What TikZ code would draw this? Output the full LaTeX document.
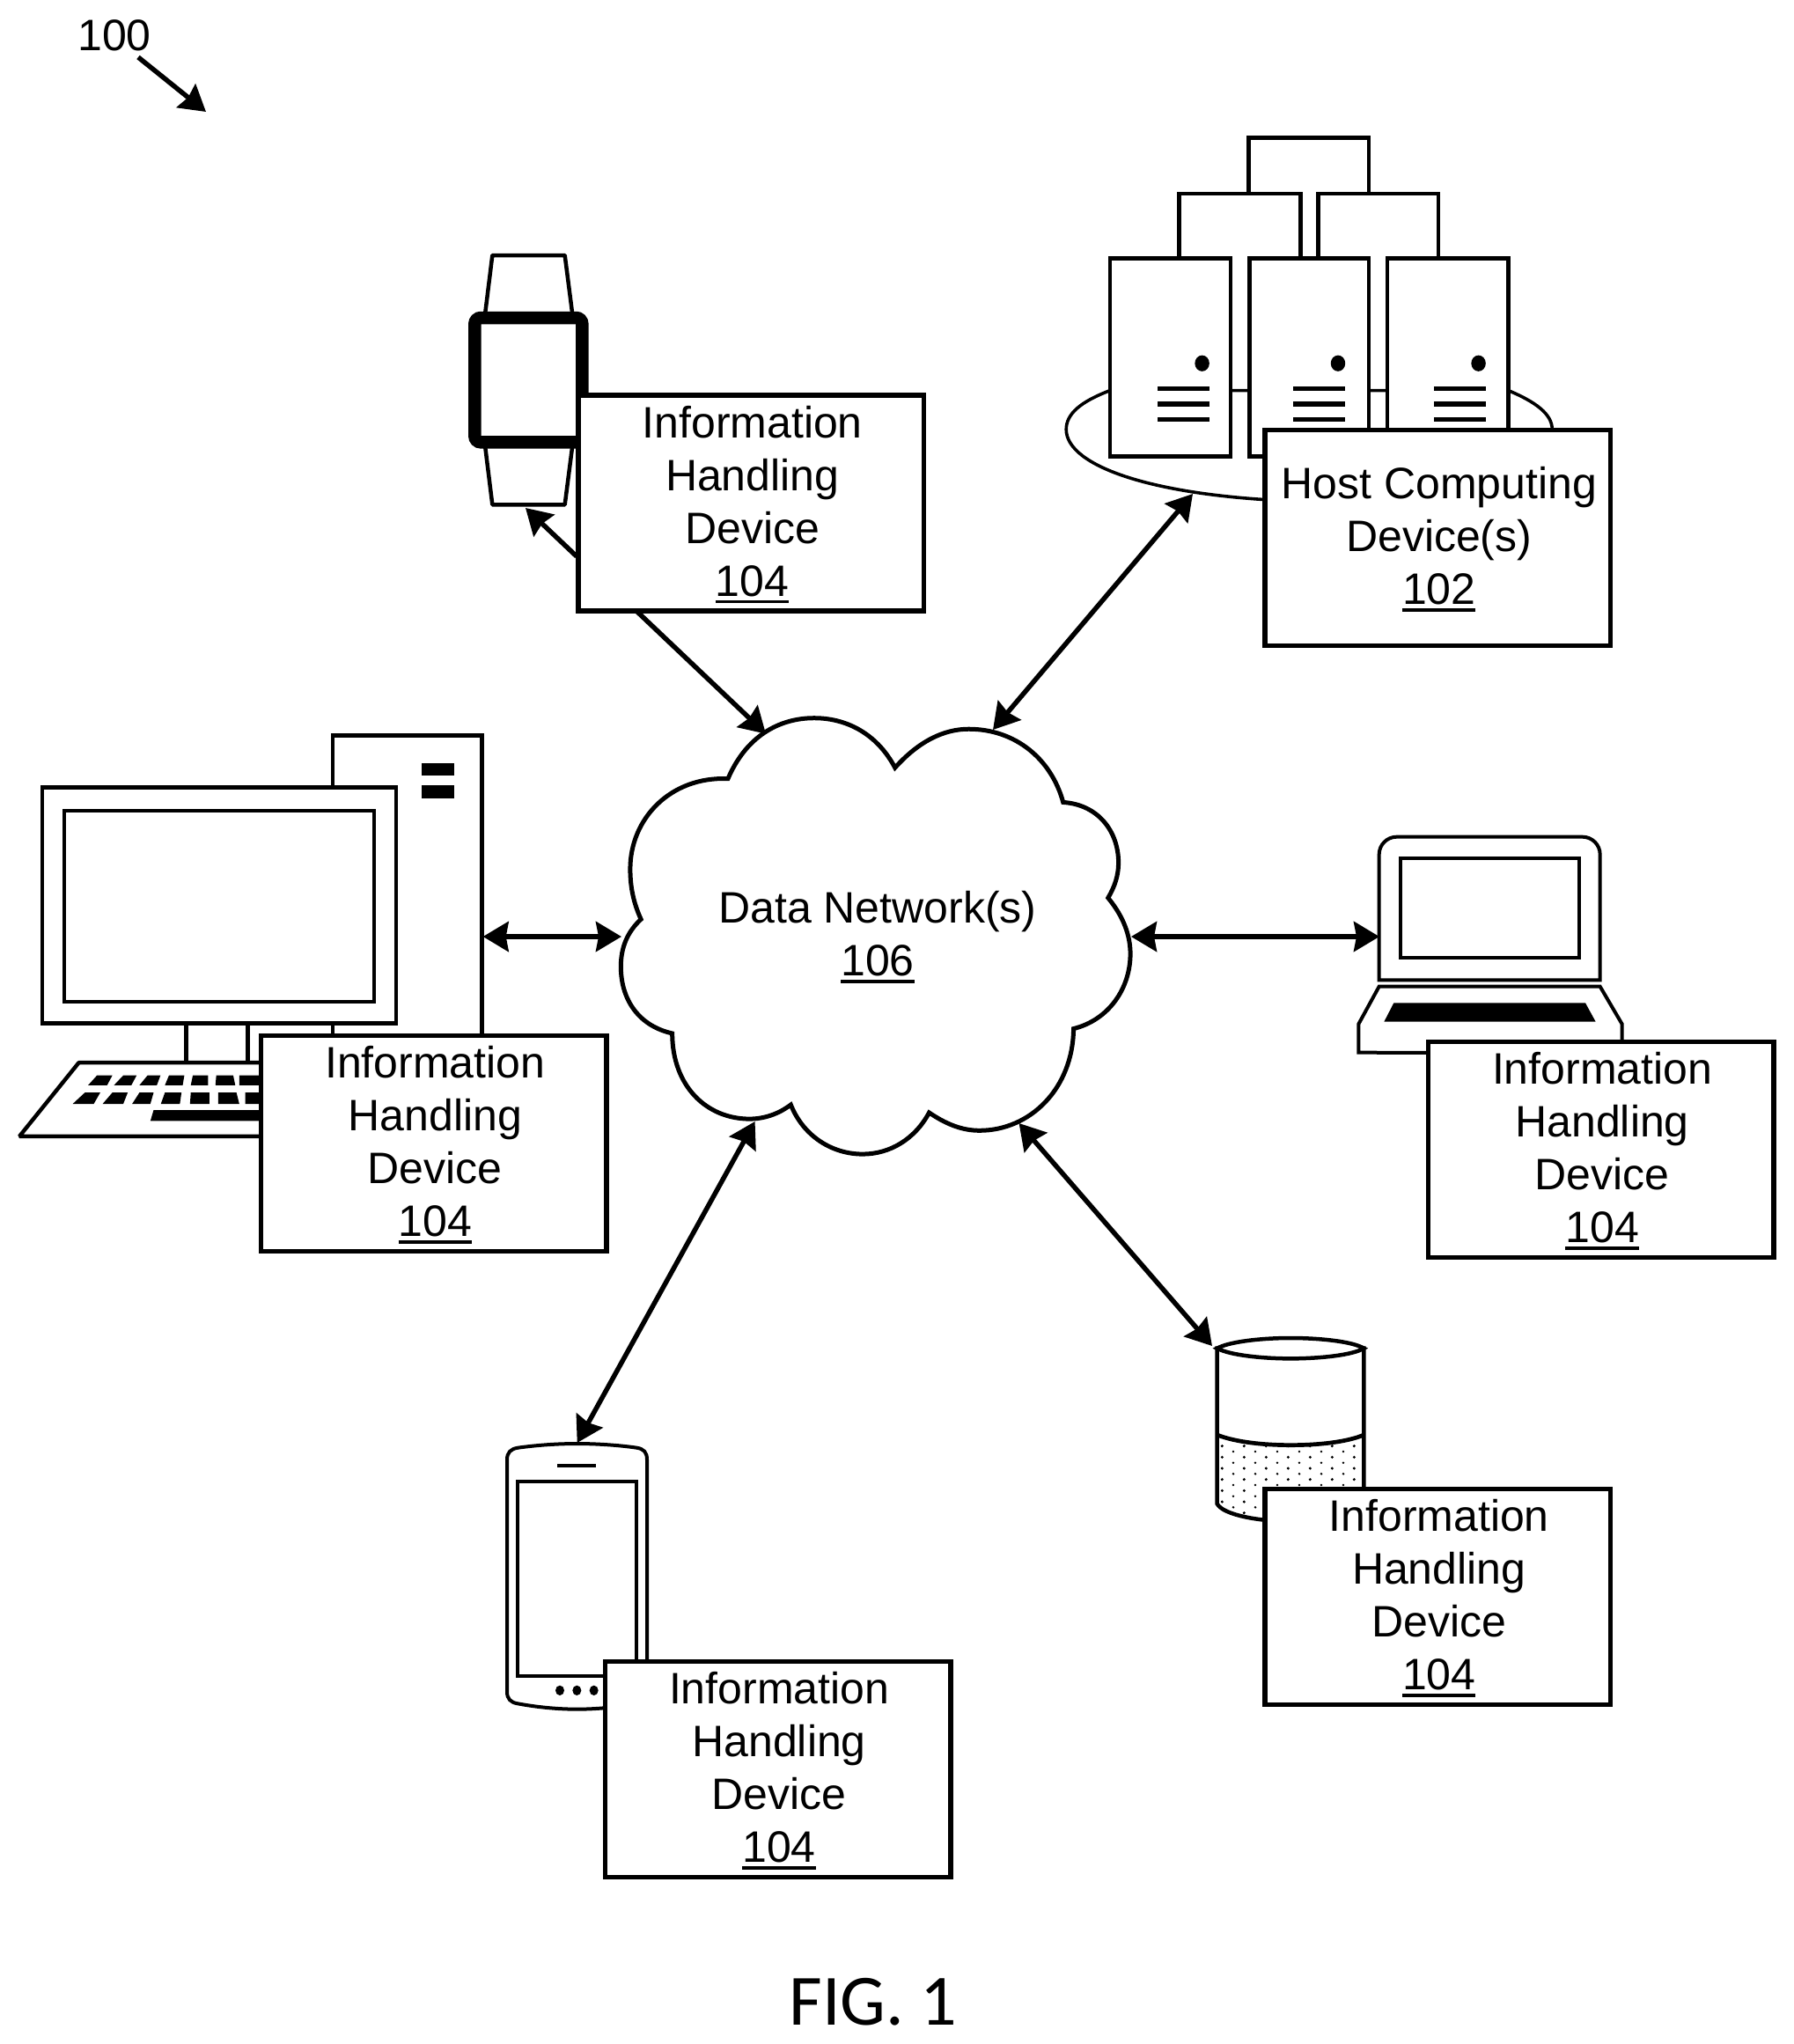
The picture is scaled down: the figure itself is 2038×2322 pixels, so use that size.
\documentclass[tikz,border=0pt]{standalone}
\usepackage{fontspec}
\setmainfont{Liberation Sans}
\newfontfamily\figfont{Carlito}
\usetikzlibrary{arrows.meta}
\newcommand{\ulnum}[1]{\setbox0\hbox{#1}\rlap{\rule[-8pt]{\wd0}{3.5pt}}\box0}
\newcommand{\tl}{\hspace*{3pt}}
\newcommand{\devtext}{\rule{0pt}{39.5pt}\tl Information\\\tl Handling\\\tl Device\\\tl\ulnum{104}}
\tikzset{
  txt/.style={font={\fontsize{50}{60}\selectfont},align=center,inner sep=0pt},
  devbox/.style={draw=black,fill=white,line width=5.5pt,minimum width=392.5pt,minimum height=245pt,
     inner sep=0pt,outer sep=0pt,align=center,font={\fontsize{50}{60}\selectfont}},
  conn/.style={line width=5.5pt,<->,>={Stealth[length=29pt,width=34pt,inset=3pt]}},
  oneway/.style={line width=5.5pt,->,>={Stealth[length=29pt,width=34pt,inset=3pt]}},
  icon/.style={draw=black,fill=white,line width=4.5pt,line join=miter},
}
\begin{document}
\begin{tikzpicture}[x=1pt,y=-1pt]
\useasboundingbox (0,0) rectangle (2038,2322);
\fill[white] (0,0) rectangle (2038,2322);

% ---------- host computing devices
\begin{scope}[shift={(1180pt,-130pt)},x=0.43365pt,y=-0.39541pt]
  \draw[icon] (550,228) -- (550,67) -- (865,67) -- (865,228);
  \draw[icon] (368,413) -- (368,228) -- (686,228) -- (686,413);
  \draw[icon] (732,413) -- (732,228) -- (1047,228) -- (1047,413);
  \draw[draw=black,line width=3.6pt]
     (187,793) .. controls (110,825) and (72,860) .. (72,905)
     .. controls (72,1010) and (300,1100) .. (700,1112)
     .. controls (1100,1100) and (1345,1000) .. (1345,905)
     .. controls (1345,860) and (1300,825) .. (1230,793) -- cycle;
  \foreach \xa/\xb/\dx/\lx in {187/503/428/311, 552/865/784/666, 913/1230/1152/1035}{
    \draw[icon] (\xa,413) rectangle (\xb,982);
    \fill (\dx,715) ellipse [x radius=19,y radius=23];
    \foreach \ly in {787,832,877}
      \fill (\lx,\ly-6.5) rectangle (\lx+136,\ly+6.5);
  }
\end{scope}

% ---------- computer
\begin{scope}[shift={(0pt,-800pt)},x=0.4592pt,y=-0.4146pt]
  \draw[icon] (823,85) rectangle (1192,1100);
  \fill (1043,162) rectangle (1124,195);
  \fill (1043,222) rectangle (1124,258);
  \draw[icon] (461,860) rectangle (613,1000);
  \draw[icon,line join=bevel] (195,982) -- (48,1184) -- (900,1184) -- (800,982) -- cycle;
  \foreach \a/\b/\c/\d in {218/240/278/265,282/305/338/325,345/365/397/388,408/418/456/452,472/477/515/515,533/535/577/582,592/592/640/650}
    \fill (\a,1044) -- (\b,1017) -- (\c,1017) -- (\d,1044) -- cycle;
  \foreach \a/\b/\c/\d in {180/210/248/232,254/278/316/305,327/345/380/372,398/408/449/445,470/472/518/518,540/540/585/592,607/607/650/660}
    \fill (\a,1095) -- (\b,1064) -- (\c,1064) -- (\d,1095) -- cycle;
  \fill (372,1142) -- (380,1112) -- (700,1112) -- (700,1142) -- cycle;
  \draw[icon] (104,228) rectangle (980,874);
  \draw[icon,line width=4pt] (160,291) rectangle (926,816);
\end{scope}

% ---------- watch
\begin{scope}[shift={(500pt,-260pt)},x=0.33333pt,y=-0.33333pt]
  \draw[icon,line join=round] (152,300) -- (178,90) -- (425,90) -- (452,300);
  \draw[icon,line join=round] (152,730) -- (178,940) -- (425,940) -- (452,730);
  \draw[draw=black,fill=white,line width=14.5pt,rounded corners=7pt] (118,303) rectangle (484,727);
\end{scope}

% ---------- laptop
\begin{scope}[shift={(1520pt,-930pt)},x=0.33333pt,y=-0.33333pt]
  \draw[icon,line width=4pt] (140,550) -- (140,125) [rounded corners=20pt] -- (140,62) -- (893,62) [sharp corners] -- (893,125) -- (893,550) -- cycle;
  \draw[icon,line width=4pt] (213,135) rectangle (822,473);
  \draw[icon,line width=4pt] (140,572) -- (893,572) -- (968,700) -- (968,800) -- (70,797) -- (70,700) -- cycle;
  \fill (190,628) -- (843,628) -- (878,692) -- (157,692) -- cycle;
\end{scope}

% ---------- database
\begin{scope}[shift={(1340pt,-1500pt)},x=0.33333pt,y=-0.33333pt]
  \draw[icon] (128,95) -- (128,625) .. controls (150,665) and (280,685) .. (378,685)
        .. controls (480,685) and (600,665) .. (628,625) -- (628,95) -- cycle;
  \begin{scope}
    \clip (128,390) .. controls (190,415) and (290,425) .. (378,425)
          .. controls (470,425) and (570,415) .. (628,390) -- (628,625)
          .. controls (600,665) and (480,685) .. (378,685)
          .. controls (280,685) and (150,665) .. (128,625) -- cycle;
    \foreach \i in {0,...,6}{
      \foreach \j in {0,...,6}{
        \fill (145+75*\j,428+38*\i) circle (5);
        \fill (183+75*\j,447+38*\i) circle (4.2);
      }
    }
  \end{scope}
  \draw[draw=black,line width=4.7pt] (128,390) .. controls (190,415) and (290,425) .. (378,425)
          .. controls (470,425) and (570,415) .. (628,390);
  \draw[icon] (128,95) .. controls (170,72) and (280,60) .. (378,60)
          .. controls (480,60) and (590,72) .. (628,95)
          .. controls (590,118) and (480,130) .. (378,130)
          .. controls (280,130) and (170,118) .. (128,95) -- cycle;
\end{scope}

% ---------- phone
\begin{scope}[shift={(560pt,-1620pt)},x=0.33333pt,y=-0.33333pt]
  \draw[icon,line width=4pt] (48,115) .. controls (48,90) and (60,78) .. (85,74)
     .. controls (150,65) and (220,60) .. (287,60)
     .. controls (350,60) and (430,65) .. (490,74)
     .. controls (515,78) and (525,90) .. (525,115)
     -- (525,905) .. controls (525,930) and (515,942) .. (490,946)
     .. controls (430,958) and (350,965) .. (287,965)
     .. controls (220,965) and (150,958) .. (85,946)
     .. controls (60,942) and (48,930) .. (48,905) -- cycle;
  \draw[icon,line width=4pt] (83,190) rectangle (490,852);
  \fill (219,129) rectangle (351,141);
  \foreach \dx in {228,286,344} \fill (\dx,901) ellipse [x radius=15,y radius=17];
\end{scope}

% ---------- cloud
\begin{scope}[shift={(680pt,-780pt)},x=0.40816pt,y=-0.35714pt]
  \draw[draw=black,fill=white,line width=5pt,line join=miter]
    (360,293) .. controls (410,160) and (500,100) .. (600,100)
    .. controls (700,100) and (780,160) .. (825,258)
    .. controls (890,175) and (960,135) .. (1030,135)
    .. controls (1160,135) and (1260,230) .. (1293,368)
    .. controls (1390,375) and (1447,460) .. (1447,560)
    .. controls (1447,600) and (1437,635) .. (1418,672)
    .. controls (1460,730) and (1480,790) .. (1480,850)
    .. controls (1480,960) and (1420,1060) .. (1322,1088)
    .. controls (1320,1280) and (1200,1412) .. (1060,1412)
    .. controls (1010,1412) and (965,1390) .. (920,1355)
    .. controls (880,1440) and (810,1487) .. (735,1487)
    .. controls (650,1487) and (570,1430) .. (535,1330)
    .. controls (500,1360) and (460,1375) .. (420,1375)
    .. controls (300,1375) and (205,1270) .. (205,1103)
    .. controls (115,1080) and (62,1000) .. (62,890)
    .. controls (62,830) and (80,780) .. (118,740)
    .. controls (98,690) and (88,640) .. (88,580)
    .. controls (88,420) and (200,285) .. (360,293) -- cycle;
\end{scope}

\node[txt] (net) at (997,1064.5) {Data Network(s)\\\ulnum{106}};

% ---------- labelled boxes
\node[devbox] (watchbox)  at (853.2,571.5)  {\devtext};
\node[devbox] (hostbox)   at (1633.2,611)   {\rule{0pt}{39.5pt}\tl Host Computing\\\tl Device(s)\\\tl\ulnum{102}};
\node[devbox] (pcbox)     at (492.8,1299)   {\devtext};
\node[devbox] (laptopbox) at (1818.6,1306)  {\devtext};
\node[devbox] (dbbox)     at (1633.2,1814)  {\devtext};
\node[devbox] (phonebox)  at (883.6,2010)   {\devtext};

% ---------- connector ends
\coordinate (watchtip)  at (597,577);
\coordinate (watchsrc)  at (655,632);
\coordinate (watchout)  at (724,695);
\coordinate (net-nw)    at (870,833.6);
\coordinate (hosttip)   at (1355,561);
\coordinate (net-ne)    at (1128,829);
\coordinate (pctip)     at (548.7,1064);
\coordinate (net-w)     at (706,1064);
\coordinate (net-e)     at (1285,1064);
\coordinate (laptoptip) at (1567,1064);
\coordinate (dbtip)     at (1377,1529);
\coordinate (net-se)    at (1157.6,1276);
\coordinate (phonetip)  at (655.7,1639);
\coordinate (net-sw)    at (857.6,1274);
\coordinate (reffrom)   at (157,65);
\coordinate (refto)     at (234,127);

\draw[oneway] (watchsrc) -- (watchtip);
\draw[oneway] (watchout) -- (net-nw);
\draw[conn] (hosttip) -- (net-ne);
\draw[conn] (pctip) -- (net-w);
\draw[conn] (net-e) -- (laptoptip);
\draw[conn] (dbtip) -- (net-se);
\draw[conn] (phonetip) -- (net-sw);

\node[txt] (ref) at (130,40) {100};
\draw[oneway] (reffrom) -- (refto);
\node[font={\figfont\fontsize{82}{90}\selectfont},inner sep=0pt,anchor=base] (fig) at (992,2300) {FIG. 1};
\end{tikzpicture}
\end{document}
